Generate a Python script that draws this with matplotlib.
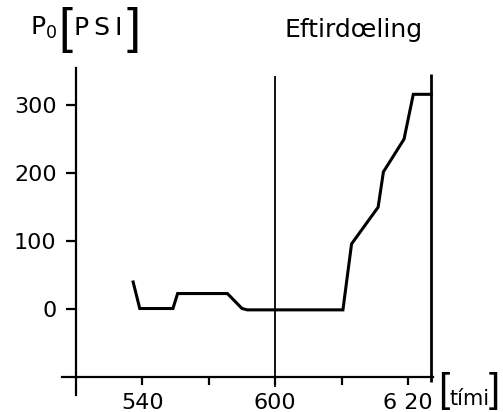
import matplotlib
matplotlib.use("Agg")
import matplotlib.pyplot as plt

# time in minutes after midnight (5:30 = 330), pressure in PSI
time_min = [338.6, 339.6, 344.6, 345.3, 352.8, 355.0, 355.8, 370.2,
            371.5, 375.5, 376.3, 379.4, 380.8, 383.5]
pressure = [39, 0, 0, 22, 22, 0, -2, -2, 95, 149, 201, 249, 315, 315]

x_ticks = [340, 350, 360, 370, 380]
x_labels = ["540", "", "600", "", "6 20"]
y_ticks = [0, 100, 200, 300]
y_labels = ["0", "100", "200", "300"]

# vertical marker lines (6:00 and end of record)
marks = [360, 383.5]

W, H = 503, 412


def fx(px):
    return px / W


def fy(py):
    return 1 - py / H


plt.rcParams['font.family'] = ['DejaVu Sans']
fig = plt.figure(figsize=(W / 100, H / 100), dpi=100)
ax = fig.add_axes([0, 0, 1, 1])
ax.set_xlim(318.55, 394.31)
ax.set_ylim(-152.2, 453.7)
ax.patch.set_visible(False)

for s in ['top', 'right']:
    ax.spines[s].set_visible(False)
ax.spines['left'].set_position(('data', 330))
ax.spines['left'].set_bounds(-127, 354)
ax.spines['bottom'].set_position(('data', -100))
ax.spines['bottom'].set_bounds(327.9, 383.8)
ax.spines['left'].set_linewidth(1.6)
ax.spines['bottom'].set_linewidth(1.6)

ax.set_xticks(x_ticks, x_labels)
ax.set_yticks(y_ticks, y_labels)
ax.tick_params(axis='x', direction='out', length=6, width=1.6, pad=6, labelsize=16)
ax.tick_params(axis='y', direction='out', length=7, width=1.6, pad=7, labelsize=16)

ax.vlines(marks[0], -115, 342, color='black', lw=1.3)
ax.vlines(marks[1], -108, 345, color='black', lw=2.0)

ax.plot(time_min, pressure, color='black', lw=2.2, solid_joinstyle='miter')

br = dict(family=['Liberation Sans', 'DejaVu Sans'], va='center', ha='center')

fig.text(fx(30), fy(35), "P$_0$", fontsize=18, va='baseline')
fig.text(fx(65), fy(30), "[", fontsize=36, **br)
fig.text(fx(74), fy(35), "P\u2009S\u2009I", fontsize=18, va='baseline')
fig.text(fx(134), fy(30), "]", fontsize=36, **br)

fig.text(fx(354), fy(37), "Eftirdœling", fontsize=18, ha='center', va='baseline')

fig.text(fx(444), fy(391), "[", fontsize=29, **br)
fig.text(fx(449), fy(405), "tími", fontsize=15, va='baseline')
fig.text(fx(494), fy(391), "]", fontsize=29, **br)

fig.savefig("out.png", dpi=100)
